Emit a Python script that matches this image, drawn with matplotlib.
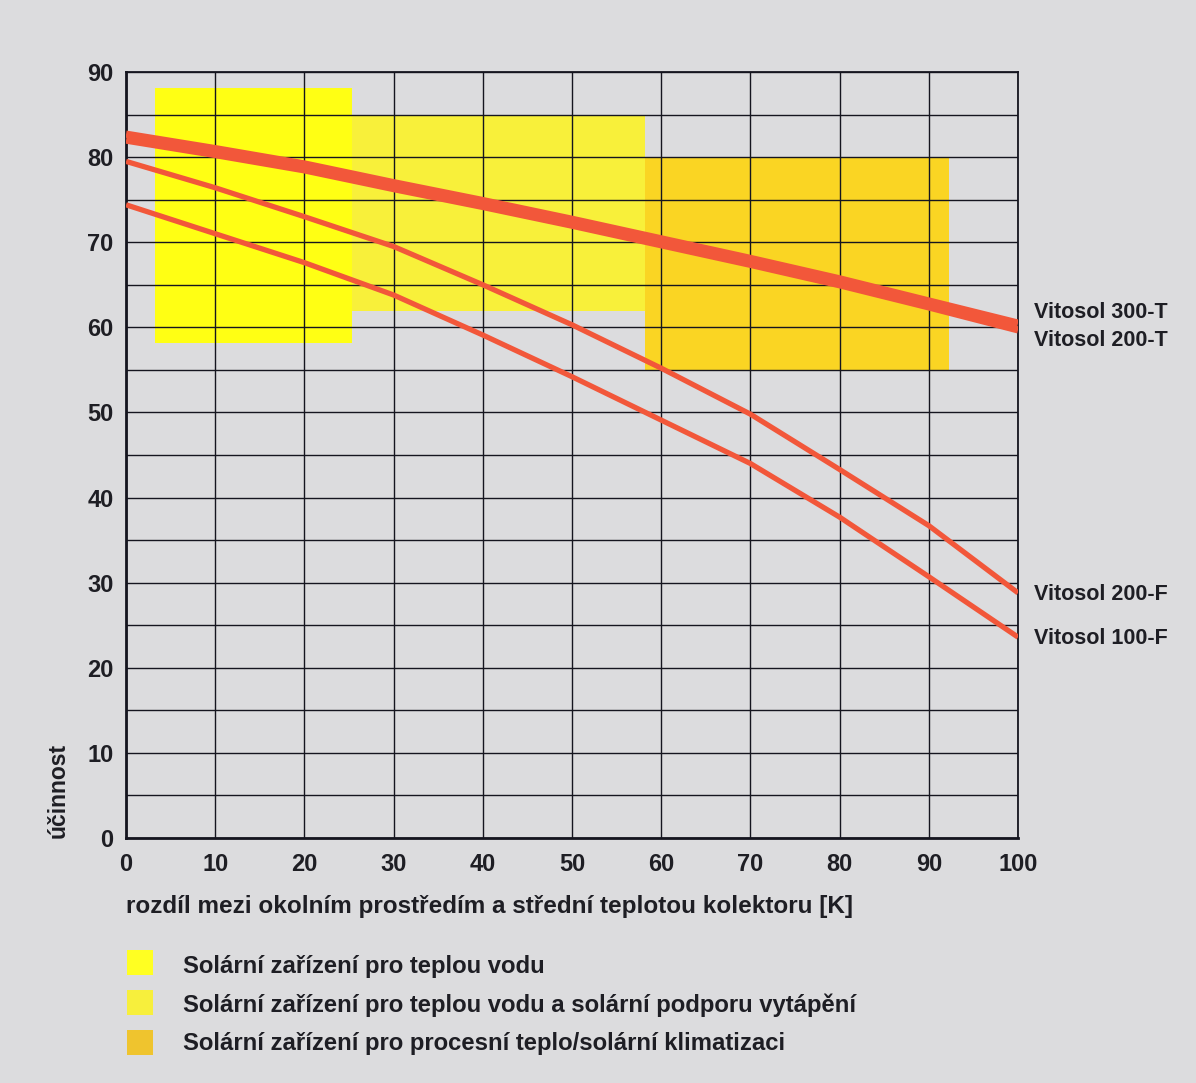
"""
Vitosol collector efficiency curves vs temperature difference,
with the application ranges shaded behind them.
"""
import matplotlib
matplotlib.use('Agg')
import matplotlib.pyplot as plt
from matplotlib.patches import Rectangle

plt.rcParams['font.family'] = ['Liberation Sans', 'DejaVu Sans']
plt.rcParams['font.weight'] = 'bold'

# temperature difference [K]
dt = [0, 10, 20, 30, 40, 50, 60, 70, 80, 90, 100]

# efficiency [%]
v300t = [82.7, 81.0, 79.2, 77.0, 74.9, 72.7, 70.4, 68.1, 65.7, 63.1, 60.5]
v200t = [82.0, 80.3, 78.5, 76.3, 74.2, 72.0, 69.7, 67.4, 65.0, 62.4, 59.7]
v200f = [79.5, 76.4, 73.0, 69.5, 65.0, 60.3, 55.2, 49.8, 43.3, 36.7, 28.8]
v100f = [74.4, 71.0, 67.6, 63.8, 59.1, 54.2, 49.1, 44.0, 37.7, 30.7, 23.6]

series_names = ['Vitosol 300-T', 'Vitosol 200-T', 'Vitosol 200-F', 'Vitosol 100-F']
label_y = [61.7, 58.5, 28.6, 23.5]

# application ranges: (x0, x1, y0, y1)
ranges = [(3.3, 25.3, 58.2, 88.1), (25.3, 58.2, 61.9, 85.0), (58.2, 92.3, 55.0, 80.0)]
range_colors = ['#ffff14', '#f8f03a', '#fad523']
range_labels = ['Solární zařízení pro teplou vodu',
                'Solární zařízení pro teplou vodu a solární podporu vytápění',
                'Solární zařízení pro procesní teplo/solární klimatizaci']
legend_colors = ['#ffff22', '#f7ef3c', '#efc42e']

BG = '#dcdcde'
LINE = '#f2573a'
TXT = '#1e1e24'

fig = plt.figure(figsize=(11.96, 10.83), dpi=100, facecolor=BG)
ax = fig.add_axes([0.1054, 0.2262, 0.7458, 0.7073], facecolor=BG)

# shaded ranges, range 1 on top
for i in [1, 2, 0]:
    x0, x1, y0, y1 = ranges[i]
    ax.add_patch(Rectangle((x0, y0), x1 - x0, y1 - y0, facecolor=range_colors[i],
                           edgecolor='none', zorder=1))

ax.set_xlim(0, 100)
ax.set_ylim(0, 90)
ax.set_xticks(range(0, 101, 10))
ax.set_yticks(range(0, 91, 10))
ax.set_yticks(range(5, 90, 10), minor=True)
ax.set_axisbelow('line')
ax.grid(True, which='both', color='#15151f', linewidth=1.0)
ax.tick_params(which='both', length=0, labelsize=17, colors=TXT)
ax.tick_params(axis='x', pad=11)
ax.tick_params(axis='y', pad=9)
for lab in ax.get_xticklabels() + ax.get_yticklabels():
    lab.set_fontweight('bold')
for side, sp in ax.spines.items():
    sp.set_color('#15151f')
    sp.set_linewidth(2.0 if side in ('left', 'bottom') else 1.3)

# efficiency curves
ax.plot(dt, v200t, color=LINE, lw=5.2, solid_capstyle='butt', zorder=3)
ax.plot(dt, v300t, color=LINE, lw=5.2, solid_capstyle='butt', zorder=3)
ax.plot(dt, v200f, color=LINE, lw=3.8, solid_capstyle='butt', zorder=3)
ax.plot(dt, v100f, color=LINE, lw=3.8, solid_capstyle='butt', zorder=3)

for name, yv in zip(series_names, label_y):
    ax.text(101.8, yv, name, fontsize=15.5, fontweight='bold', color=TXT,
            ha='left', va='center', clip_on=False)

ax.set_xlabel('rozdíl mezi okolním prostředím a střední teplotou kolektoru [K]',
              fontsize=17.5, fontweight='bold', color=TXT, loc='left')
ax.xaxis.set_label_coords(0.0, -0.074)
ax.set_ylabel('účinnost', fontsize=16.5, fontweight='bold', color=TXT, loc='bottom')
ax.yaxis.set_label_coords(-0.063, 0.0)

# legend for the ranges
sw_y = [962.5, 1002.5, 1042.5]
txt_y = [967, 1005.5, 1043.5]
for col, lab, sy, ty in zip(legend_colors, range_labels, sw_y, txt_y):
    fig.add_artist(Rectangle((127 / 1196, 1 - (sy + 12.5) / 1083), 26 / 1196, 25 / 1083,
                             transform=fig.transFigure, facecolor=col, edgecolor='none'))
    fig.text(183 / 1196, 1 - ty / 1083, lab, fontsize=17.2, fontweight='bold', color=TXT,
             ha='left', va='center')

fig.savefig('out.png', dpi=100, facecolor=BG)
